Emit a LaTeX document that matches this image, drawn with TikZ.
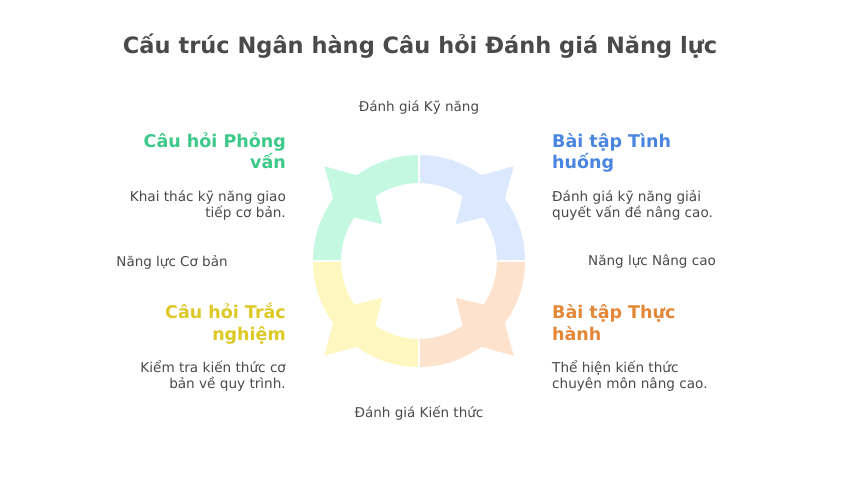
\documentclass[tikz,border=0pt]{standalone}
\usepackage{fontspec}
\setmainfont{DejaVu Sans}
\usepackage{tikz}

\definecolor{segGreen}{HTML}{C5F8E1}
\definecolor{segBlue}{HTML}{DCE8FD}
\definecolor{segOrange}{HTML}{FDE3CD}
\definecolor{segYellow}{HTML}{FEF7BF}
\definecolor{headGreen}{HTML}{3CC98A}
\definecolor{headBlue}{HTML}{4A86E0}
\definecolor{headOrange}{HTML}{E48737}
\definecolor{headYellow}{HTML}{DDC926}
\definecolor{textGray}{HTML}{4A4A4A}

\begin{document}
\begin{tikzpicture}[x=1pt,y=1pt,
    heading/.style={inner sep=0pt, font=\fontsize{17.5}{21}\selectfont\bfseries},
    desc/.style={inner sep=0pt, text=textGray, font=\fontsize{13.6}{16}\selectfont},
    axislabel/.style={inner sep=0pt, text=textGray, font=\fontsize{13.5}{15}\selectfont}
]

\useasboundingbox (0,0) rectangle (852,480);
\fill[white] (0,0) rectangle (852,480);

% ring of four segments
\foreach \a/\col in {90/segGreen, 0/segBlue, 270/segOrange, 180/segYellow}
{
\fill[\col, shift={(419,219)}]
    ({\a+0.6}:106) arc[start angle={\a+0.6}, end angle={\a+36}, radius=106]
    -- ({\a+45}:134) -- ({\a+54}:106)
    arc[start angle={\a+54}, end angle={\a+89.4}, radius=106]
    -- ({\a+89.4}:78)
    arc[start angle={\a+89.4}, end angle={\a+56}, radius=78]
    -- ({\a+45}:52) -- ({\a+34}:78)
    arc[start angle={\a+34}, end angle={\a+0.6}, radius=78]
    -- cycle;
}

% title
\node[inner sep=0pt, text=textGray, font=\fontsize{22.5}{26}\selectfont\bfseries] (title) at (420,434) {Cấu trúc Ngân hàng Câu hỏi Đánh giá Năng lực};

% axis labels
\node[axislabel] (skill) at (419,372) {Đánh giá Kỹ năng};
\node[axislabel] (knowledge) at (419,67) {Đánh giá Kiến thức};
\node[axislabel] (basic) at (172,218) {Năng lực Cơ bản};
\node[axislabel] (advanced) at (652,218) {Năng lực Nâng cao};

% quadrant texts (base = last line)
\node[heading, text=headGreen, align=right, anchor=base east] (interviewHead) at (286,311) {Câu hỏi Phỏng\\vấn};
\node[desc, align=right, anchor=base east] (interviewDesc) at (286,262) {Khai thác kỹ năng giao\\tiếp cơ bản.};

\node[heading, text=headBlue, align=left, anchor=base west] (caseHead) at (552,311) {Bài tập Tình\\huống};
\node[desc, align=left, anchor=base west] (caseDesc) at (552,262) {Đánh giá kỹ năng giải\\quyết vấn đề nâng cao.};

\node[heading, text=headYellow, align=right, anchor=base east] (quizHead) at (286,140) {Câu hỏi Trắc\\nghiệm};
\node[desc, align=right, anchor=base east] (quizDesc) at (286,92) {Kiểm tra kiến thức cơ\\bản về quy trình.};

\node[heading, text=headOrange, align=left, anchor=base west] (practiceHead) at (552,140) {Bài tập Thực\\hành};
\node[desc, align=left, anchor=base west] (practiceDesc) at (552,92) {Thể hiện kiến thức\\chuyên môn nâng cao.};

\end{tikzpicture}
\end{document}
